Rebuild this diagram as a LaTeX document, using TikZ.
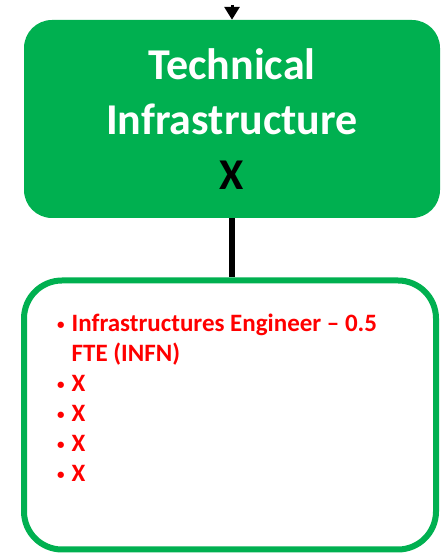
\documentclass[tikz,border=0pt]{standalone}
\usepackage{fontspec}
\setmainfont{Carlito}
\usepackage{tikz}
\usetikzlibrary{arrows.meta, positioning}
\definecolor{verdeArea}{RGB}{0,176,80}
\definecolor{rossoNota}{RGB}{255,0,0}
\newcommand{\punto}{\raisebox{2pt}{\scalebox{0.6}{\textbullet}}}

\begin{document}
\begin{tikzpicture}[x=1pt, y=1pt,
    headbox/.style={fill=verdeArea, draw=none, rounded corners=28pt, minimum width=416pt, minimum height=198pt, align=center, text=white, font=\bfseries\fontsize{44}{55}\selectfont},
    listbox/.style={draw=verdeArea, fill=white, line width=6pt, rounded corners=38pt, minimum width=412pt, minimum height=269pt},
    link/.style={line width=6pt, draw=black},
    arrow/.style={line width=3pt, -{Triangle[width=15pt, length=13pt]}, draw=black}
]
    \useasboundingbox (0,0) rectangle (442,556);

    \node[headbox] (tech) at (232, 437) {Technical\\Infrastructure\\{\color{black}X}};
    \node[listbox] (staff) at (230, 141) {};
    \node[anchor=north west, text=rossoNota, font=\bfseries\fontsize{25}{30}\selectfont, inner sep=0pt] (roles) at (57, 246) {%
        \begin{tabular}{@{}l@{\hspace{7pt}}l@{}}
            \punto & Infrastructures Engineer -- 0.5\\
                   & FTE (INFN)\\
            \punto & X\\
            \punto & X\\
            \punto & X\\
            \punto & X
        \end{tabular}};

    \coordinate (feed) at (232, 551);
    \draw[arrow] (feed) -- (tech.north);
    \draw[link] (tech.south) -- (tech.south |- staff.north);
\end{tikzpicture}
\end{document}
